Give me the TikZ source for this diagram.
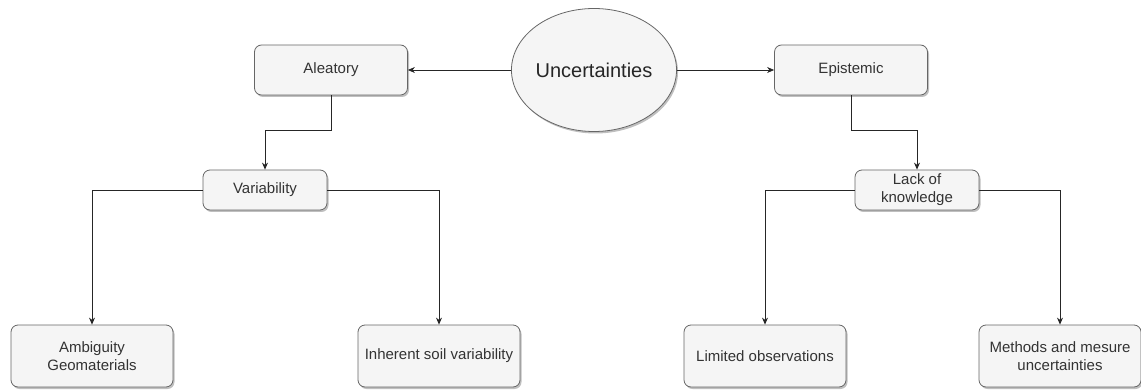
\documentclass[tikz,border=0pt]{standalone}
\usepackage{fontspec}
\setmainfont{Liberation Sans}
\usepackage{tikz}
\usetikzlibrary{shapes.geometric, positioning, shadows, arrows.meta}

\definecolor{boxfill}{HTML}{F5F5F5}
\definecolor{boxline}{HTML}{666666}
\definecolor{boxtext}{HTML}{333333}

\begin{document}
\begin{tikzpicture}[x=1pt, y=-1pt, on grid,
    box/.style={draw=boxline, fill=boxfill, rounded corners=7pt, line width=0.8pt,
      text=boxtext, align=center, inner sep=0pt,
      font=\fontsize{15}{18}\selectfont,
      drop shadow={shadow xshift=1.5pt, shadow yshift=-2pt, fill=black, opacity=0.25}},
    topbox/.style={box, minimum width=153pt, minimum height=50pt},
    midbox/.style={box, minimum width=124pt, minimum height=40pt},
    leafbox/.style={box, minimum width=162pt, minimum height=62pt},
    link/.style={draw=black!85, line width=0.8pt, -{Stealth[length=7pt, width=6pt]}}]
  \useasboundingbox (0,0) rectangle (1141,390);

  % root
  \node[ellipse, draw=boxline, fill=boxfill, line width=0.8pt, minimum width=145pt,
    minimum height=123pt, inner sep=0pt, text=black!85,
    font=\fontsize{20}{24}\selectfont,
    drop shadow={shadow xshift=1.5pt, shadow yshift=-2pt, fill=black, opacity=0.25}]
    (unc) at (594,70) {Uncertainties};

  % first level
  \node[topbox] (alea) [left=263pt of unc] {Aleatory};
  \node[topbox] (epis) [right=257pt of unc] {Epistemic};

  % second level
  \node[midbox] (var) [below left=120pt and 66pt of alea] {Variability};
  \node[midbox] (lack) [below right=120pt and 66pt of epis] {Lack of\\knowledge};

  % leaves
  \node[leafbox] (amb) [below left=166pt and 173pt of var] {Ambiguity\\Geomaterials};
  \node[leafbox] (inh) [below right=166pt and 174pt of var] {Inherent soil variability};
  \node[leafbox] (lim) [below left=166pt and 152pt of lack] {Limited observations};
  \node[leafbox] (meth) [below right=166pt and 143pt of lack] {Methods and mesure\\uncertainties};

  \draw[link] (unc) -- (alea);
  \draw[link] (unc) -- (epis);
  \draw[link] (alea.south) -- ++(0,35) -| (var.north);
  \draw[link] (epis.south) -- ++(0,35) -| (lack.north);
  \draw[link] (var.west) -| (amb.north);
  \draw[link] (var.east) -| (inh.north);
  \draw[link] (lack.west) -| (lim.north);
  \draw[link] (lack.east) -| (meth.north);
\end{tikzpicture}
\end{document}
